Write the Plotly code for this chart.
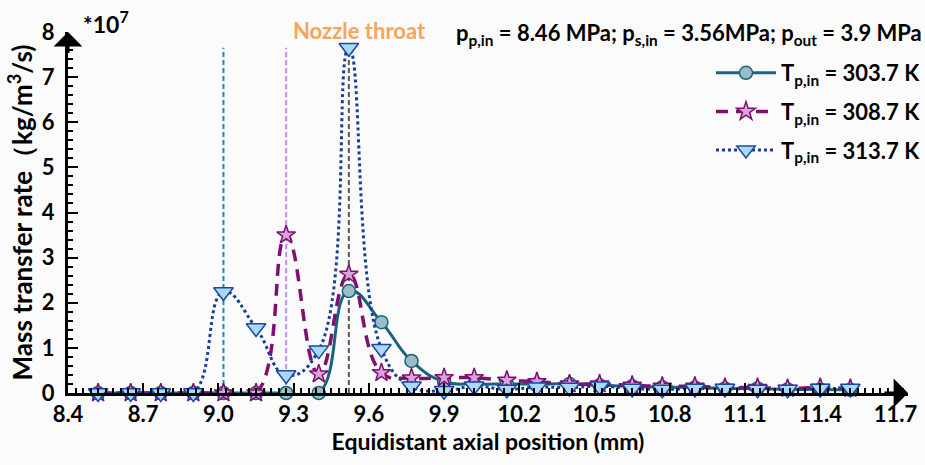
import plotly.graph_objects as go

# ---------------- data ----------------
x_pos = [8.52, 8.65, 8.77, 8.90, 9.02, 9.15, 9.27, 9.40, 9.52, 9.65, 9.77, 9.90,
         10.02, 10.15, 10.27, 10.40, 10.52, 10.65, 10.77, 10.90, 11.02, 11.15,
         11.27, 11.40, 11.52]

t303 = [0, 0, 0, 0, 0, 0, 0, 0, 2.26, 1.57, 0.71, 0.25,
        0.2, 0.2, 0.2, 0.2, 0.17, 0.15, 0.13, 0.12, 0.1, 0.1,
        0.08, 0.08, 0.07]

t308 = [0, 0, 0, 0, 0, 0, 3.5, 0.42, 2.63, 0.45, 0.33, 0.34,
        0.34, 0.28, 0.25, 0.2, 0.2, 0.17, 0.15, 0.15, 0.12, 0.12,
        0.1, 0.12, 0.1]

t313 = [0, 0, 0, 0, 2.24, 1.44, 0.4, 0.95, 7.65, 0.98, 0.15, 0.05,
        0.15, 0.08, 0.13, 0.12, 0.15, 0.1, 0.08, 0.1, 0.1, 0.08,
        0.08, 0.1, 0.1]

series_names = ["T<sub>p,in</sub> = 303.7 K", "T<sub>p,in</sub> = 308.7 K",
                "T<sub>p,in</sub> = 313.7 K"]

x_ticks = [8.4, 8.7, 9.0, 9.3, 9.6, 9.9, 10.2, 10.5, 10.8, 11.1, 11.4, 11.7]
x_tick_labels = ["8.4", "8.7", "9.0", "9.3", "9.6", "9.9", "10.2", "10.5",
                 "10.8", "11.1", "11.4", "11.7"]
y_ticks = [0, 1, 2, 3, 4, 5, 6, 7, 8]

# guide lines (x taken from data positions)
guide_x = [x_pos[4], x_pos[6], x_pos[8]]
guide_top = 7.65

FONT = "Lato"
x_range = [8.4, 11.75]
y_range = [0, 8]

# plot-area pixel geometry
L, R, T, B = 68, 17, 32, 72
W, H = 925, 465
PW, PH = W - L - R, H - T - B


def px(xp):
    return (xp - L) / PW


def py(yp):
    return (H - B - yp) / PH


fig = go.Figure()

SM = 1.3

fig.add_trace(go.Scatter(
    x=x_pos, y=t303, name=series_names[0], mode="lines+markers",
    line=dict(color="#17657d", width=3, shape="spline", smoothing=SM),
    marker=dict(symbol="circle", size=13, color="#9dbdc6",
                line=dict(color="#17657d", width=1.5)),
    cliponaxis=False, legendgroup="a"))

fig.add_trace(go.Scatter(
    x=x_pos, y=t308, name=series_names[1], mode="lines+markers",
    line=dict(color="#7d1070", width=3.5, shape="spline", smoothing=SM,
              dash="12px,8px"),
    marker=dict(symbol="star", size=14, color="#d8a4dc",
                line=dict(color="#7d1070", width=1.5)),
    cliponaxis=False, legendgroup="b"))

fig.add_trace(go.Scatter(
    x=x_pos, y=t313, name=series_names[2], mode="lines+markers",
    line=dict(color="#163f9c", width=3, shape="spline", smoothing=SM,
              dash="dot"),
    marker=dict(symbol="triangle-down", size=17, color="#a9d8f8",
                line=dict(color="#1a4aa0", width=1.5)),
    cliponaxis=False, legendgroup="c"))

guide_colors = ["#1f86c9", "#c08af0", "#555555"]
for gx, gc in zip(guide_x, guide_colors):
    fig.add_shape(type="line", x0=gx, x1=gx, y0=0, y1=guide_top,
                  xref="x", yref="y", layer="below",
                  line=dict(color=gc, width=2, dash="5px,3px"))

# axis arrows
fig.add_annotation(x=x_range[1], y=0, ax=x_range[1] - 0.1, ay=0,
                   xref="x", yref="y", axref="x", ayref="y",
                   showarrow=True, arrowhead=1, arrowsize=1.6, arrowwidth=3,
                   arrowcolor="black", text="", standoff=0)
fig.add_annotation(x=x_range[0], y=y_range[1], ax=x_range[0], ay=y_range[1] - 0.5,
                   xref="x", yref="y", axref="x", ayref="y",
                   showarrow=True, arrowhead=1, arrowsize=1.6, arrowwidth=3,
                   arrowcolor="black", text="", standoff=0)

# texts
fig.add_annotation(x=px(81), y=py(22), xref="paper", yref="paper",
                   xanchor="left", yanchor="middle", showarrow=False,
                   text="<b>*10<sup>7</sup></b>",
                   font=dict(family=FONT, size=23, color="black"))
fig.add_annotation(x=px(359), y=py(30), xref="paper", yref="paper",
                   xanchor="center", yanchor="middle", showarrow=False,
                   text="<b>Nozzle throat</b>",
                   font=dict(family=FONT, size=22, color="#f7a55e"))
fig.add_annotation(x=px(924), y=py(34), xref="paper", yref="paper",
                   xanchor="right", yanchor="middle", showarrow=False,
                   text="<b>p<sub>p,in</sub> = 8.46 MPa; p<sub>s,in</sub> = 3.56MPa; p<sub>out</sub> = 3.9 MPa</b>",
                   font=dict(family=FONT, size=22, color="black"))

axis_font = dict(family=FONT, size=22, color="black", weight="bold")

fig.update_xaxes(
    range=x_range, tickvals=x_ticks, ticktext=x_tick_labels,
    showline=True, linecolor="black", linewidth=3,
    ticks="inside", ticklen=10, tickwidth=2, tickcolor="black",
    minor=dict(dtick=0.03, tick0=8.4, ticks="inside", ticklen=5, tickwidth=2,
               tickcolor="black"),
    showgrid=False, zeroline=False, tickfont=axis_font,
    title=dict(text="Equidistant axial position (mm)", standoff=4,
               font=dict(family=FONT, size=23, color="black", weight="bold")))

fig.update_yaxes(
    range=y_range, tickvals=y_ticks,
    showline=True, linecolor="black", linewidth=3,
    ticks="inside", ticklen=10, tickwidth=2, tickcolor="black",
    minor=dict(dtick=0.2, tick0=0, ticks="inside", ticklen=5, tickwidth=2,
               tickcolor="black"),
    showgrid=False, zeroline=False, tickfont=axis_font, ticklabelstandoff=6,
    title=dict(text="Mass transfer rate（kg/m<sup>3</sup>/s)", standoff=2,
               font=dict(family=FONT, size=26, color="black", weight="bold")))

fig.update_layout(
    width=W, height=H,
    margin=dict(l=L, r=R, t=T, b=B, pad=0, autoexpand=False),
    paper_bgcolor="#fbfbfb", plot_bgcolor="#fbfbfb",
    showlegend=True,
    legend=dict(x=px(711), y=py(52), xanchor="left", yanchor="top",
                bgcolor="rgba(0,0,0,0)", itemwidth=60, tracegroupgap=7,
                traceorder="grouped",
                font=dict(family=FONT, size=22, color="black", weight="bold")),
)

fig.write_html("out.html")
